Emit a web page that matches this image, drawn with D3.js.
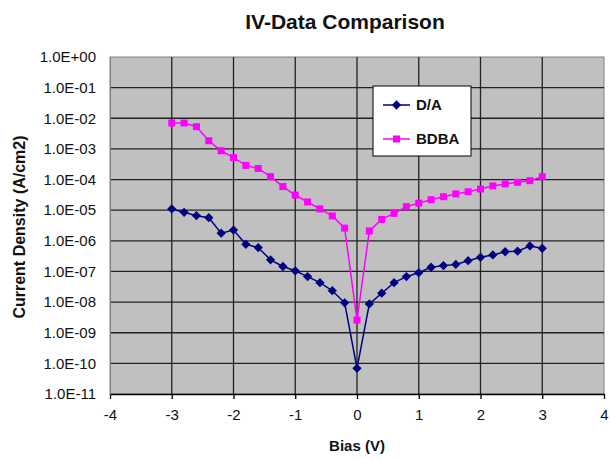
<!DOCTYPE html>
<html>
<head>
<meta charset="utf-8">
<script src="https://cdn.jsdelivr.net/npm/d3@7"></script>
<style>
  html, body { margin: 0; padding: 0; background: #fff; }
  svg { display: block; }
  text { font-family: "Liberation Sans", Arial, sans-serif; }
</style>
</head>
<body>
<svg id="chart" width="610" height="459"></svg>
<script>
const bias = [-3, -2.8, -2.6, -2.4, -2.2, -2.0, -1.8, -1.6, -1.4, -1.2, -1.0, -0.8, -0.6, -0.4, -0.2, 0,
              0.2, 0.4, 0.6, 0.8, 1.0, 1.2, 1.4, 1.6, 1.8, 2.0, 2.2, 2.4, 2.6, 2.8, 3.0];
const daValues = [1.1e-5, 8.5e-6, 6.6e-6, 5.7e-6, 1.77e-6, 2.25e-6, 7.7e-7, 6.0e-7, 2.4e-7, 1.45e-7, 1.05e-7,
                  6.8e-8, 4.3e-8, 2.35e-8, 9.5e-9, 6.9e-11, 8.7e-9, 1.95e-8, 4.3e-8, 6.8e-8, 9.1e-8,
                  1.37e-7, 1.55e-7, 1.7e-7, 2.25e-7, 2.9e-7, 3.45e-7, 4.4e-7, 4.6e-7, 6.8e-7, 5.7e-7];
const bdbaValues = [7e-3, 7e-3, 5.3e-3, 1.85e-3, 8.7e-4, 5.2e-4, 2.9e-4, 2.3e-4, 1.24e-4, 5.9e-5, 3.1e-5,
                    1.85e-5, 1.1e-5, 6.5e-6, 2.6e-6, 2.6e-9, 2.1e-6, 5.0e-6, 7.9e-6, 1.3e-5, 1.7e-5,
                    2.2e-5, 2.75e-5, 3.4e-5, 4.0e-5, 4.9e-5, 6.2e-5, 7.2e-5, 8.1e-5, 9.2e-5, 1.24e-4];
const seriesNames = ["D/A", "BDBA"];
const xTicks = [-4, -3, -2, -1, 0, 1, 2, 3, 4];
const xTickLabels = ["-4", "-3", "-2", "-1", "0", "1", "2", "3", "4"];
const yTicks = [1e0, 1e-1, 1e-2, 1e-3, 1e-4, 1e-5, 1e-6, 1e-7, 1e-8, 1e-9, 1e-10, 1e-11];
const yTickLabels = ["1.0E+00", "1.0E-01", "1.0E-02", "1.0E-03", "1.0E-04", "1.0E-05",
                     "1.0E-06", "1.0E-07", "1.0E-08", "1.0E-09", "1.0E-10", "1.0E-11"];
const titleText = "IV-Data Comparison";
const xTitle = "Bias (V)";
const yTitle = "Current Density (A/cm2)";

const svg = d3.select("#chart");
const L = 110, R = 604, T = 57, B = 394;
const x = d3.scaleLinear().domain([-4, 4]).range([L, R]);
const y = d3.scaleLog().domain([1e-11, 1]).range([B, T]);

// plot background
svg.append("rect").attr("x", L).attr("y", T).attr("width", R - L).attr("height", B - T)
  .attr("fill", "#c0c0c0").attr("stroke", "#808080").attr("stroke-width", 1);

// grid
const grid = svg.append("g");
grid.selectAll("line.h").data(yTicks.slice(1, -1)).join("line")
  .attr("x1", L).attr("x2", R).attr("y1", d => y(d)).attr("y2", d => y(d))
  .attr("stroke", "#222").attr("stroke-width", 1.3);
grid.selectAll("line.v").data(xTicks.slice(1, -1)).join("line")
  .attr("y1", T).attr("y2", B).attr("x1", d => x(d)).attr("x2", d => x(d))
  .attr("stroke", "#222").attr("stroke-width", 1.3);

// x axis
const xAxis = svg.append("g").attr("transform", `translate(0,${B})`)
  .call(d3.axisBottom(x).tickValues(xTicks).tickSize(5).tickSizeOuter(0).tickPadding(10)
    .tickFormat((d, i) => xTickLabels[i]));
xAxis.select(".domain").attr("stroke", "#000").attr("stroke-width", 1.3);
xAxis.selectAll(".tick line").attr("stroke", "#000").attr("stroke-width", 1.3);
xAxis.selectAll("text").attr("font-size", 15).attr("fill", "#111")
  .style("font-family", '"Liberation Sans", Arial, sans-serif');

// y axis
const yAxis = svg.append("g").attr("transform", `translate(${L},0)`)
  .call(d3.axisLeft(y).tickValues(yTicks).tickSize(0).tickPadding(14)
    .tickFormat((d, i) => yTickLabels[i]));
yAxis.select(".domain").attr("stroke", "#808080");
yAxis.selectAll("text").attr("font-size", 15).attr("fill", "#111")
  .style("font-family", '"Liberation Sans", Arial, sans-serif');

// series
const daData = bias.map((b, i) => ({ x: b, y: daValues[i] }));
const bdbaData = bias.map((b, i) => ({ x: b, y: bdbaValues[i] }));
const line = d3.line().x(d => x(d.x)).y(d => y(d.y));

svg.append("path").datum(bdbaData).attr("d", line)
  .attr("fill", "none").attr("stroke", "#ff00ff").attr("stroke-width", 1.5);
svg.append("g").selectAll("rect").data(bdbaData).join("rect")
  .attr("x", d => x(d.x) - 3.5).attr("y", d => y(d.y) - 3.5)
  .attr("width", 7).attr("height", 7).attr("fill", "#ff00ff");

svg.append("path").datum(daData).attr("d", line)
  .attr("fill", "none").attr("stroke", "#000080").attr("stroke-width", 1.5);
const diamond = d3.symbol().type(d3.symbolDiamond2).size(55);
svg.append("g").selectAll("path").data(daData).join("path")
  .attr("d", diamond).attr("transform", d => `translate(${x(d.x)},${y(d.y)})`)
  .attr("fill", "#000080");

// legend
const lg = svg.append("g");
lg.append("rect").attr("x", 373).attr("y", 86).attr("width", 98).attr("height", 70)
  .attr("fill", "#fff").attr("stroke", "#000").attr("stroke-width", 1);
const legendColors = ["#000080", "#ff00ff"];
const legendY = [105, 139];
seriesNames.forEach((name, i) => {
  lg.append("line").attr("x1", 383).attr("x2", 410).attr("y1", legendY[i]).attr("y2", legendY[i])
    .attr("stroke", legendColors[i]).attr("stroke-width", 1.5);
  if (i === 0) {
    lg.append("path").attr("d", diamond).attr("transform", `translate(396.5,${legendY[i]})`)
      .attr("fill", legendColors[i]);
  } else {
    lg.append("rect").attr("x", 393).attr("y", legendY[i] - 3.5).attr("width", 7).attr("height", 7)
      .attr("fill", legendColors[i]);
  }
  lg.append("text").attr("x", 416).attr("y", legendY[i]).attr("dy", "0.36em")
    .attr("font-size", 15).attr("font-weight", "bold").attr("fill", "#111").text(name);
});

// titles
svg.append("text").attr("x", 345).attr("y", 29).attr("text-anchor", "middle")
  .attr("font-size", 21).attr("font-weight", "bold").attr("fill", "#111").text(titleText);
svg.append("text").attr("x", 357).attr("y", 451).attr("text-anchor", "middle")
  .attr("font-size", 15).attr("font-weight", "bold").attr("fill", "#111").text(xTitle);
svg.append("text").attr("transform", "translate(25,227) rotate(-90)").attr("text-anchor", "middle")
  .attr("font-size", 16).attr("font-weight", "bold").attr("fill", "#111").text(yTitle);
</script>
</body>
</html>
